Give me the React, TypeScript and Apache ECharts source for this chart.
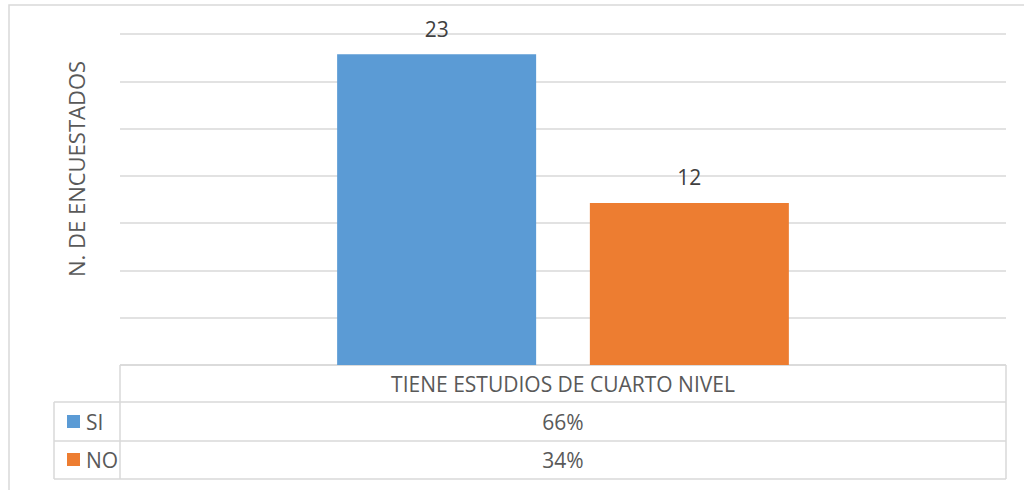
import React, { useEffect, useRef } from "react";
import * as echarts from "echarts";

const categories = ["TIENE ESTUDIOS DE CUARTO NIVEL"];
const seriesNames = ["SI", "NO"];
const seriesValues = [23, 12];
const percentLabels = ["66%", "34%"];
const colors = ["#5B9BD5", "#ED7D31"];
const yAxisTitle = "N. DE ENCUESTADOS";

const FONT = "Open Sans";
const GRID = "#D9D9D9";
const TEXT = "#595959";

export default function App() {
  const ref = useRef<HTMLDivElement>(null);
  useEffect(() => {
    if (!ref.current) return;
    const chart = echarts.init(ref.current, undefined, { renderer: "svg" });
    const lineStyle = { stroke: GRID, lineWidth: 1.5 };
    const hLine = (x1: number, x2: number, y: number) => ({
      type: "line",
      shape: { x1, y1: y, x2, y2: y },
      style: lineStyle,
      silent: true,
    });
    const vLine = (x: number, y1: number, y2: number) => ({
      type: "line",
      shape: { x1: x, y1, x2: x, y2 },
      style: lineStyle,
      silent: true,
    });
    chart.setOption({
      animation: false,
      backgroundColor: "#ffffff",
      textStyle: { fontFamily: FONT },
      grid: { left: 120, right: 18, top: 34, bottom: 125, containLabel: false },
      legend: {
        orient: "vertical",
        left: 62,
        top: 406,
        itemWidth: 13,
        itemHeight: 13,
        itemGap: 17,
        icon: "rect",
        selectedMode: false,
        data: seriesNames,
        textStyle: { fontFamily: FONT, fontSize: 21, color: TEXT, lineHeight: 21, padding: [0, 0, 0, 1] },
      },
      xAxis: {
        type: "category",
        data: categories,
        axisLine: { show: false },
        axisTick: { show: false },
        axisLabel: {
          margin: 0,
          formatter: (v: string) =>
            [`{h|${v}}`, ...percentLabels.map((p) => `{v|${p}}`)].join("\n"),
          rich: {
            h: { fontFamily: FONT, fontSize: 21, color: TEXT, lineHeight: 38 },
            v: { fontFamily: FONT, fontSize: 21, color: TEXT, lineHeight: 38 },
          },
        },
      },
      yAxis: {
        type: "value",
        min: 0,
        max: 24.5,
        interval: 3.5,
        axisLabel: { show: false },
        axisLine: { show: false },
        axisTick: { show: false },
        splitLine: { lineStyle: { color: GRID, width: 1.5 } },
      },
      series: seriesNames.map((name, i) => ({
        name,
        type: "bar",
        data: [seriesValues[i]],
        barWidth: 199,
        barGap: "27%",
        itemStyle: { color: colors[i] },
        label: {
          show: true,
          position: "top",
          distance: 15,
          fontFamily: FONT,
          fontSize: 21,
          color: "#404040",
        },
      })),
      graphic: [
        {
          type: "rect",
          shape: { x: 9, y: 5, width: 1040, height: 520 },
          style: { fill: "none", stroke: GRID, lineWidth: 1.5 },
          silent: true,
          z: -10,
        },
        hLine(120, 1006, 365),
        hLine(54, 1006, 402),
        hLine(54, 1006, 441),
        hLine(54, 1006, 479),
        vLine(54, 402, 479),
        vLine(120, 365, 479),
        vLine(1006, 365, 479),
        {
          type: "text",
          x: 75.5,
          y: 169,
          rotation: Math.PI / 2,
          style: {
            text: yAxisTitle,
            fontFamily: FONT,
            fontSize: 22,
            fill: TEXT,
            textAlign: "center",
            textVerticalAlign: "middle",
          },
        },
      ],
    });
    return () => chart.dispose();
  }, []);
  return (
    <div
      ref={ref}
      style={{ position: "absolute", left: 0, top: 0, width: 1024, height: 490 }}
    />
  );
}
